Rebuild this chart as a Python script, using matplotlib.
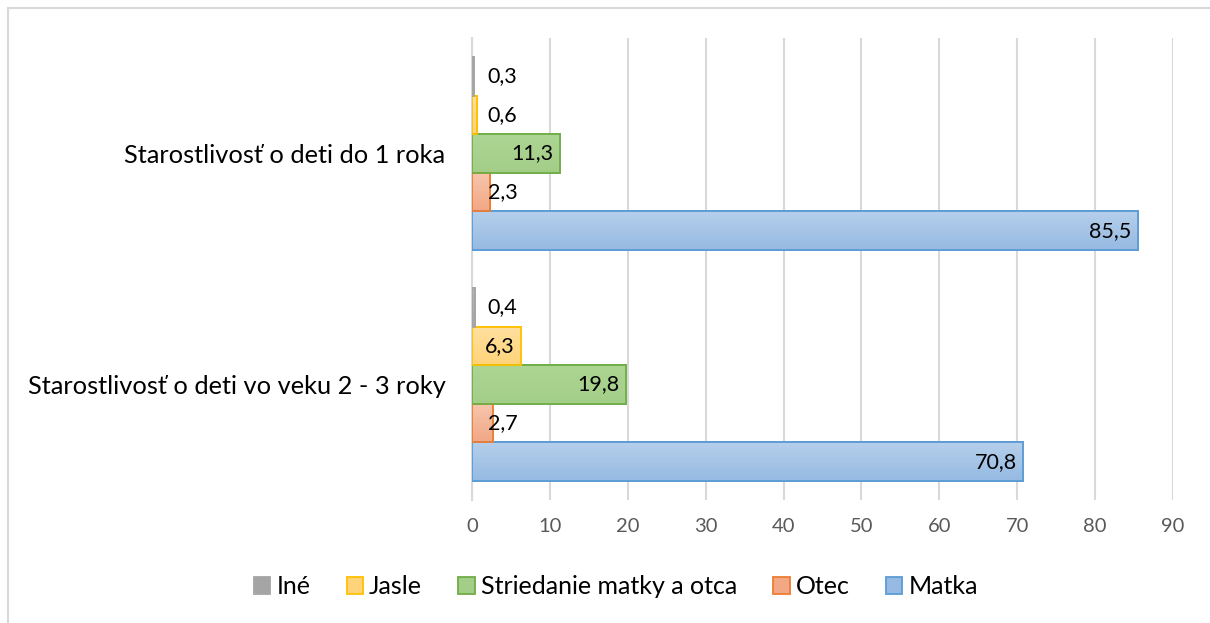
import numpy as np
import matplotlib.pyplot as plt
from matplotlib.colors import LinearSegmentedColormap
from matplotlib.patches import Rectangle

# data
categories = ['Starostlivosť o deti vo veku 2 - 3 roky', 'Starostlivosť o deti do 1 roka']
series = ['Matka', 'Otec', 'Striedanie matky a otca', 'Jasle', 'Iné']
matka = [70.8, 85.5]
otec = [2.7, 2.3]
striedanie = [19.8, 11.3]
jasle = [6.3, 0.6]
ine = [0.4, 0.3]
values = [matka, otec, striedanie, jasle, ine]

# fill gradient (top, bottom) and edge colour per series
fills = [('#b5cfeb', '#96bae3'), ('#f6c6ae', '#f2a785'), ('#add593', '#a3ce88'),
         ('#ffe0a0', '#ffd37a'), ('#b8b8b8', '#a5a5a5')]
edges = ['#5b9bd5', '#ed7d31', '#70ad47', '#ffc000', '#a5a5a5']

plt.rcParams['font.family'] = ['Lato', 'DejaVu Sans']

fig = plt.figure(figsize=(12.1, 6.23), dpi=100)
ax = fig.add_axes([472 / 1210, 1 - 500 / 623, (1173 - 472) / 1210, (500 - 38) / 623])

y = np.arange(len(categories))
h = 0.835 / len(series)
for i, (name, vals) in enumerate(zip(series, values)):
    pos = y + (i - 2) * h
    bars = ax.barh(pos, vals, height=h, color=fills[i][1], edgecolor=edges[i],
                   linewidth=1.3, label=name, zorder=3)
    cmap = LinearSegmentedColormap.from_list('g%d' % i, [fills[i][0], fills[i][1]])
    for b, v, p in zip(bars, vals, pos):
        im = ax.imshow(np.linspace(0, 1, 50).reshape(-1, 1), cmap=cmap, aspect='auto',
                       origin='upper', extent=[0, v, p - h / 2, p + h / 2], zorder=3.1)
        im.set_clip_path(b)
        # outline on top of gradient
        ax.add_patch(Rectangle((0, p - h / 2), v, h, fill=False, edgecolor=edges[i],
                               linewidth=1.3, zorder=3.2))
        if v < 5:
            ax.text(2.0, p, f'{v:.1f}'.replace('.', ','), va='center', ha='left',
                    fontsize=15.5, zorder=4)
        else:
            ax.annotate(f'{v:.1f}'.replace('.', ','), (v, p), xytext=(-5, 0),
                        textcoords='offset points', va='center', ha='right',
                        fontsize=15.5, zorder=4)

ax.set_xlim(0, 90)
ax.set_ylim(-0.5, 1.5)
ax.set_xticks(np.arange(0, 91, 10))
ax.set_yticks(y)
ax.set_yticklabels(categories, fontsize=18.3)
ax.tick_params(axis='x', colors='#595959', labelsize=14.5, length=0, pad=13)
ax.tick_params(axis='y', length=0, pad=19)
ax.grid(axis='x', color='#d9d9d9', linewidth=1.5, zorder=0)
for s in ['top', 'right', 'bottom']:
    ax.spines[s].set_visible(False)
ax.spines['left'].set_color('#d9d9d9')
ax.spines['left'].set_linewidth(1.5)

handles, labels = ax.get_legend_handles_labels()
leg = fig.legend(handles[::-1], labels[::-1], loc='center',
                 bbox_to_anchor=(616 / 1210, 1 - 587 / 623),
                 ncol=5, frameon=False, fontsize=18, handlelength=0.65, handleheight=0.65,
                 handletextpad=0.25, columnspacing=1.45)

# outer border of the chart area
fig.patches.append(Rectangle((8 / 1210, -0.1), 1.2, 1 - 8 / 623 + 0.1, transform=fig.transFigure,
                             fill=False, edgecolor='#d9d9d9', linewidth=1.5))

fig.savefig('out.png', dpi=100)
